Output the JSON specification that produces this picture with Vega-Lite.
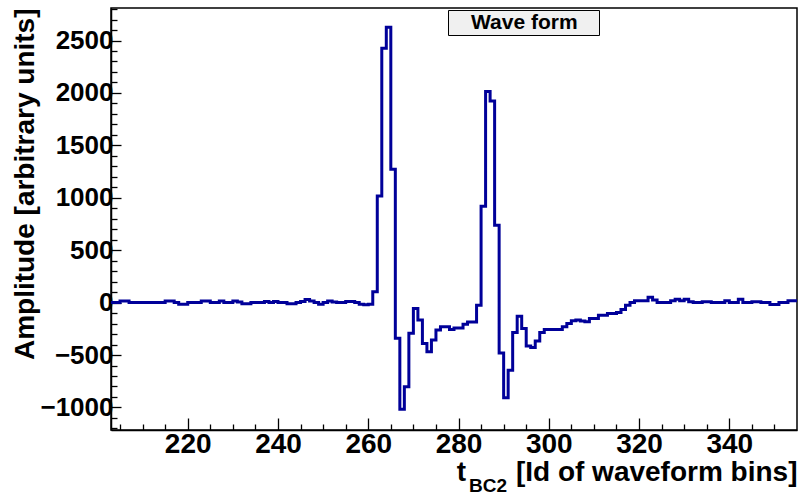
{
 "$schema": "https://vega.github.io/schema/vega-lite/v6.json",
 "width": 686,
 "height": 422,
 "autosize": {"type": "none"},
 "padding": {"left": 111, "top": 8, "right": 1, "bottom": 62},
 "background": "white",
 "config": {
  "view": {"stroke": "black", "strokeWidth": 1.5},
  "font": "Liberation Sans",
  "axis": {"grid": false, "domainColor": "black", "tickColor": "black", "labelColor": "black", "titleColor": "black", "labelFont": "Liberation Sans", "labelFontWeight": "bold", "titleFont": "Liberation Sans", "titleFontWeight": "bold", "domainWidth": 1.5, "tickWidth": 1.3}
 },
 "title": {"text": "BC2", "orient": "bottom", "anchor": "end", "fontSize": 19, "font": "Liberation Sans", "fontWeight": "bold", "color": "black", "dx": -290, "dy": -13},
 "data": {"values": [
  {"bin":203,"amp":0},{"bin":204,"amp":0},{"bin":205,"amp":15},{"bin":206,"amp":15},{"bin":207,"amp":0},{"bin":208,"amp":0},{"bin":209,"amp":0},{"bin":210,"amp":0},{"bin":211,"amp":0},{"bin":212,"amp":0},{"bin":213,"amp":0},{"bin":214,"amp":0},{"bin":215,"amp":15},{"bin":216,"amp":15},{"bin":217,"amp":0},{"bin":218,"amp":-15},{"bin":219,"amp":-15},{"bin":220,"amp":0},{"bin":221,"amp":0},{"bin":222,"amp":0},{"bin":223,"amp":15},{"bin":224,"amp":15},{"bin":225,"amp":0},{"bin":226,"amp":0},{"bin":227,"amp":15},{"bin":228,"amp":0},{"bin":229,"amp":0},{"bin":230,"amp":15},{"bin":231,"amp":5},{"bin":232,"amp":-10},{"bin":233,"amp":-10},{"bin":234,"amp":0},{"bin":235,"amp":0},{"bin":236,"amp":0},{"bin":237,"amp":10},{"bin":238,"amp":0},{"bin":239,"amp":10},{"bin":240,"amp":0},{"bin":241,"amp":0},{"bin":242,"amp":-10},{"bin":243,"amp":-10},{"bin":244,"amp":0},{"bin":245,"amp":10},{"bin":246,"amp":30},{"bin":247,"amp":15},{"bin":248,"amp":0},{"bin":249,"amp":-15},{"bin":250,"amp":0},{"bin":251,"amp":15},{"bin":252,"amp":5},{"bin":253,"amp":0},{"bin":254,"amp":0},{"bin":255,"amp":10},{"bin":256,"amp":10},{"bin":257,"amp":0},{"bin":258,"amp":-15},{"bin":259,"amp":-20},{"bin":260,"amp":-15},
  {"bin":261,"amp":103},{"bin":262,"amp":1017},{"bin":263,"amp":2427},{"bin":264,"amp":2627},{"bin":265,"amp":1271},{"bin":266,"amp":-341},{"bin":267,"amp":-1017},{"bin":268,"amp":-802},{"bin":269,"amp":-293},{"bin":270,"amp":-55},{"bin":271,"amp":-167},{"bin":272,"amp":-389},{"bin":273,"amp":-468},{"bin":274,"amp":-357},{"bin":275,"amp":-262},{"bin":276,"amp":-230},{"bin":277,"amp":-230},{"bin":278,"amp":-257},{"bin":279,"amp":-241},{"bin":280,"amp":-241},{"bin":281,"amp":-206},{"bin":282,"amp":-184},{"bin":283,"amp":-184},{"bin":284,"amp":-24},{"bin":285,"amp":919},{"bin":286,"amp":2014},{"bin":287,"amp":1922},{"bin":288,"amp":738},{"bin":289,"amp":-480},{"bin":290,"amp":-907},{"bin":291,"amp":-646},{"bin":292,"amp":-286},{"bin":293,"amp":-130},{"bin":294,"amp":-247},{"bin":295,"amp":-413},{"bin":296,"amp":-429},{"bin":297,"amp":-365},{"bin":298,"amp":-286},{"bin":299,"amp":-257},{"bin":300,"amp":-257},
  {"bin":301,"amp":-257},{"bin":302,"amp":-257},{"bin":303,"amp":-230},{"bin":304,"amp":-199},{"bin":305,"amp":-173},{"bin":306,"amp":-167},{"bin":307,"amp":-175},{"bin":308,"amp":-183},{"bin":309,"amp":-152},{"bin":310,"amp":-152},{"bin":311,"amp":-120},{"bin":312,"amp":-120},{"bin":313,"amp":-104},{"bin":314,"amp":-104},{"bin":315,"amp":-95},{"bin":316,"amp":-66},{"bin":317,"amp":-24},{"bin":318,"amp":0},{"bin":319,"amp":18},{"bin":320,"amp":18},{"bin":321,"amp":18},{"bin":322,"amp":50},{"bin":323,"amp":24},{"bin":324,"amp":0},{"bin":325,"amp":0},{"bin":326,"amp":0},{"bin":327,"amp":18},{"bin":328,"amp":31},{"bin":329,"amp":18},{"bin":330,"amp":31},{"bin":331,"amp":8},{"bin":332,"amp":0},{"bin":333,"amp":0},{"bin":334,"amp":8},{"bin":335,"amp":8},{"bin":336,"amp":0},{"bin":337,"amp":0},{"bin":338,"amp":0},{"bin":339,"amp":18},{"bin":340,"amp":0},{"bin":341,"amp":0},{"bin":342,"amp":31},{"bin":343,"amp":0},{"bin":344,"amp":0},{"bin":345,"amp":8},{"bin":346,"amp":8},{"bin":347,"amp":0},{"bin":348,"amp":0},{"bin":349,"amp":-17},{"bin":350,"amp":-17},{"bin":351,"amp":0},{"bin":352,"amp":0},{"bin":353,"amp":18},{"bin":354,"amp":18},{"bin":355,"amp":18}
 ]},
 "layer": [
  {
   "mark": {"type": "line", "interpolate": "step-after", "strokeWidth": 3, "clip": true},
   "encoding": {
    "x": {"field": "bin", "type": "quantitative", "scale": {"domain": [203, 355], "nice": false, "zero": false},
      "axis": {"values": [220, 240, 260, 280, 300, 320, 340], "format": "d", "tickSize": -12, "labelFontSize": 28, "labelPadding": 12, "labelFlush": false,
        "title": "t\u2002\u2002\u2002 [Id of waveform bins]", "titleFontSize": 28, "titleAnchor": "end", "titlePadding": 0}},
    "y": {"field": "amp", "type": "quantitative", "scale": {"domain": [-1215, 2810], "nice": false, "zero": false},
      "axis": {"values": [-1000, -500, 0, 500, 1000, 1500, 2000, 2500], "format": "d", "tickSize": -10, "labelFontSize": 26, "labelPadding": 8, "labelFlush": false,
        "title": "Amplitude [arbitrary units]", "titleFontSize": 28, "titleAnchor": "end", "titlePadding": 0}},
    "color": {"datum": "Wave form", "type": "nominal", "scale": {"range": ["#000099"]},
      "legend": {"orient": "none", "legendX": 337, "legendY": 2, "title": null, "fillColor": "#f0f0f0", "strokeColor": "black", "padding": 2,
        "symbolSize": 0, "symbolOpacity": 0, "symbolStrokeWidth": 0, "labelOffset": 0, "labelFontSize": 21, "labelFont": "Liberation Sans", "labelFontWeight": "bold", "labelColor": "black",
        "labelExpr": "'\u2002\u2009\u2009' + datum.label + '\u2002\u2009\u2009\u200b'"}}
   }
  },
  {
   "mark": {"type": "line", "interpolate": "step-after", "opacity": 0},
   "encoding": {
    "x": {"field": "bin", "type": "quantitative", "scale": {"domain": [203, 355], "nice": false, "zero": false},
      "axis": {"orient": "bottom", "values": [205, 210, 215, 225, 230, 235, 245, 250, 255, 265, 270, 275, 285, 290, 295, 305, 310, 315, 325, 330, 335, 345, 350], "tickSize": -6, "labels": false, "domain": false, "title": null}},
    "y": {"field": "amp", "type": "quantitative", "scale": {"domain": [-1215, 2810], "nice": false, "zero": false},
      "axis": {"orient": "left", "values": [-1200, -1100, -900, -800, -700, -600, -400, -300, -200, -100, 100, 200, 300, 400, 600, 700, 800, 900, 1100, 1200, 1300, 1400, 1600, 1700, 1800, 1900, 2100, 2200, 2300, 2400, 2600, 2700, 2800], "tickSize": -6, "labels": false, "domain": false, "title": null}}
   }
  }
 ],
 "resolve": {"axis": {"x": "independent", "y": "independent"}}
}
